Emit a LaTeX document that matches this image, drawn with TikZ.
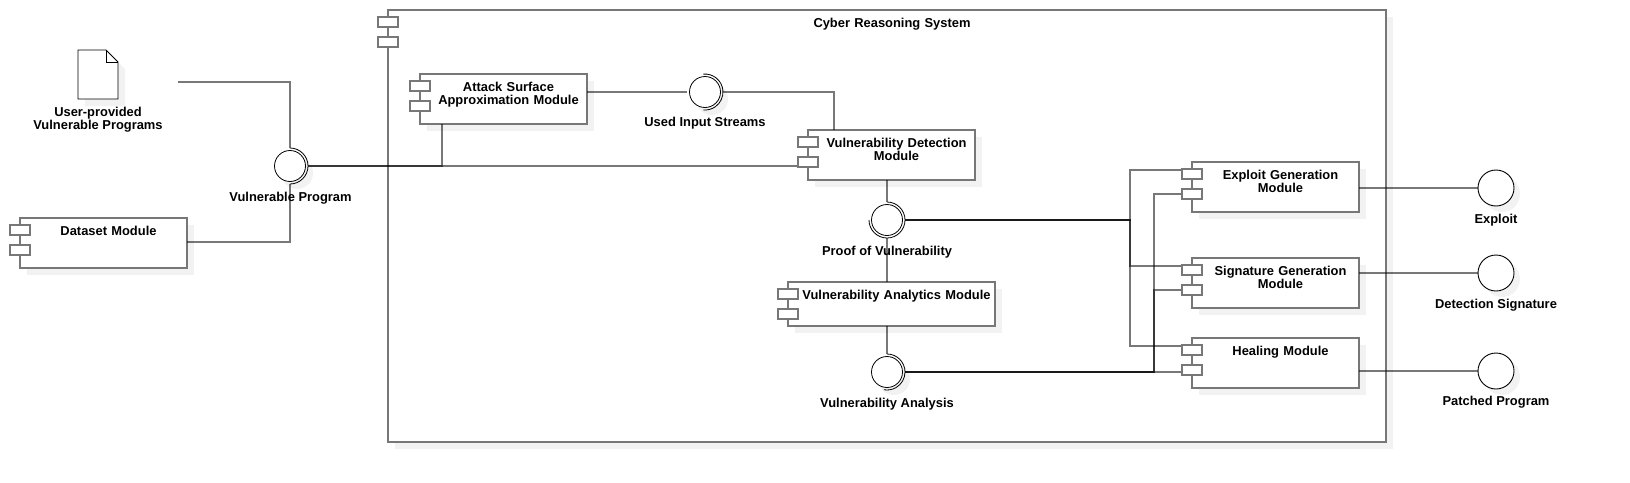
\documentclass[tikz,border=0pt]{standalone}
\usepackage{fontspec}
\setmainfont{Liberation Sans}
\definecolor{linegray}{HTML}{777777}
\definecolor{shadegray}{HTML}{F2F2F2}
\begin{document}
\begin{tikzpicture}[
        x=1pt, y=-1pt,
        comp/.style 2 args={rectangle, draw=linegray, line width=2pt, fill=white, inner sep=0pt, outer sep=0pt, anchor=north west,
            text width=#1pt, text height=17pt, text depth=#2pt-17pt, font=\fontsize{12.9}{13}\selectfont\bfseries,
            execute at begin node={\centering\leftskip=10pt plus 1fil}},
        port/.style={rectangle, draw=linegray, line width=2pt, fill=white, inner sep=0pt, outer sep=0pt, minimum width=20pt, minimum height=10pt},
        iface/.style={circle, draw=black, line width=0.8pt, fill=white, inner sep=0pt, minimum size=31pt, outer sep=2.5pt},
        output/.style={circle, draw=black, line width=0.9pt, fill=white, inner sep=0pt, outer sep=0pt, minimum size=36pt},
        lbl/.style={font=\fontsize{12.9}{13}\selectfont\bfseries, align=center, inner sep=0pt},
        conn/.style={draw=black, draw opacity=0.53, line width=2pt},
        socket/.style={draw=black, line width=0.8pt}
    ]
        \useasboundingbox (0,0) rectangle (1630,482);

        % system frame
        \fill[shadegray] (395,17) rectangle ++(998,432);
        \node[comp={998}{432}] (system) at (388,10) {Cyber Reasoning System};
        \node[port] (systempa) at (388,22) {};
        \node[port] (systempb) at (388,42) {};

        % shadows
        \foreach \xpos/\ypos/\boxw/\boxh in {27/225/167/50, 427/81/167/50, 815/137/167/50, 795/289/207/44, 1199/169/167/50, 1199/265/167/50, 1199/345/167/50}
            \fill[shadegray] (\xpos,\ypos) rectangle ++(\boxw,\boxh);
        \foreach \xpos/\ypos/\rad in {297/173/16, 712/99/16, 894/379/16, 1502/194/18, 1502/279/18, 1502/377/18}
            \fill[shadegray] (\xpos,\ypos) circle[radius=\rad pt];
        \fill[shadegray] (85,57) -- (113,57) -- (125,69) -- (125,106) -- (85,106) -- cycle;

        % user programs
        \draw[socket, fill=white] (78,50) -- (106,50) -- (118,62) -- (118,99) -- (78,99) -- cycle;
        \draw[socket] (106,50) -- (106,62) -- (118,62);
        \node[lbl] (userlbl) at (98,119.5) {User-provided\\Vulnerable Programs};

        % modules
        \node[comp={167}{50}] (dataset) at (20,218) {Dataset Module};
        \node[comp={167}{50}] (attack) at (420,74) {Attack Surface\\Approximation Module};
        \node[comp={167}{50}] (detect) at (808,130) {Vulnerability Detection\\Module};
        \node[comp={207}{44}] (analytics) at (788,282) {Vulnerability Analytics Module};
        \node[comp={167}{50}] (exploit) at (1192,162) {Exploit Generation\\Module};
        \node[comp={167}{50}] (signature) at (1192,258) {Signature Generation\\Module};
        \node[comp={167}{50}] (healing) at (1192,338) {Healing Module};

        % interfaces
        \node[iface] (vprog) at (290,166) {};
        \node[iface] (used) at (705,92) {};
        \node[iface] (proof) at (887,220) {};
        \node[iface] (analysis) at (887,372) {};
        \node[output] (exploitout) at (1496,188) {};
        \node[output] (sigout) at (1496,273) {};
        \node[output] (patchout) at (1496,371) {};

        % line ends and bends
        \coordinate (docout) at (178,82);
        \coordinate (datasetout) at (187,242);
        \coordinate (attackin) at (442,124);
        \coordinate (detectin) at (798,166);
        \coordinate (usedbend) at (834,92);
        \coordinate (detecttop) at (834,130);
        \coordinate (jointa) at (1130,220);
        \coordinate (jointb) at (1154,372);
        \coordinate (expa) at (1182,170);
        \coordinate (expb) at (1182,194);
        \coordinate (siga) at (1182,266);
        \coordinate (sigb) at (1182,290);
        \coordinate (heala) at (1182,346);
        \coordinate (healb) at (1182,372);

        \draw[conn] (docout) -| (vprog.north);
        \draw[conn] (datasetout) -| (vprog.south);
        \draw[conn] (vprog.east) -| (attackin);
        \draw[conn] (vprog.east) -- (detectin);
        \draw[conn] (attack.east |- used) -- (used.west);
        \draw[conn] (used.east) -- (usedbend) -- (detecttop);
        \draw[conn] (proof.north |- detect.south) -- (proof.north);
        \draw[conn] (proof.south) -- (proof.south |- analytics.north);
        \draw[conn] (analytics.south -| analysis) -- (analysis.north);
        \draw[conn] (proof.east) -- (jointa) |- (expa);
        \draw[conn] (proof.east) -- (jointa) |- (siga);
        \draw[conn] (proof.east) -- (jointa) |- (heala);
        \draw[conn] (analysis.east) -- (jointb) |- (expb);
        \draw[conn] (analysis.east) -- (jointb) |- (sigb);
        \draw[conn] (analysis.east) -- (healb);
        \draw[conn] (exploit.east |- exploitout) -- (exploitout.west);
        \draw[conn] (signature.east |- sigout) -- (sigout.west);
        \draw[conn] (healing.east |- patchout) -- (patchout.west);

        % ports
        \foreach \boxname/\xpos/\ytop in {dataset/20/230, attack/420/86, detect/808/142, analytics/788/294, exploit/1192/174, signature/1192/270, healing/1192/350} {
            \node[port] (\boxname pa) at (\xpos,\ytop) {};
            \node[port] (\boxname pb) at (\xpos,\ytop+20) {};
        }

        % sockets
        \draw[socket] ([yshift=18pt]vprog.center) arc[start angle=90, end angle=-90, radius=18pt];
        \draw[socket] ([shift={(-1.6pt,17.9pt)}]used.center) arc[start angle=95, end angle=-95, radius=18pt];
        \draw[socket] ([yshift=18pt]proof.center) arc[start angle=90, end angle=-180, radius=18pt];
        \draw[socket] ([yshift=18pt]analysis.center) arc[start angle=90, end angle=-100, radius=18pt];

        % labels
        \node[lbl] (vproglbl) at (290.5,198) {Vulnerable Program};
        \node[lbl] (usedlbl) at (705,123.5) {Used Input Streams};
        \node[lbl] (prooflbl) at (887,252) {Proof of Vulnerability};
        \node[lbl] (analysislbl) at (887,404) {Vulnerability Analysis};
        \node[lbl] (exploitlbl) at (1496,220) {Exploit};
        \node[lbl] (siglbl) at (1496,305) {Detection Signature};
        \node[lbl] (patchlbl) at (1496,402) {Patched Program};
    \end{tikzpicture}
\end{document}
